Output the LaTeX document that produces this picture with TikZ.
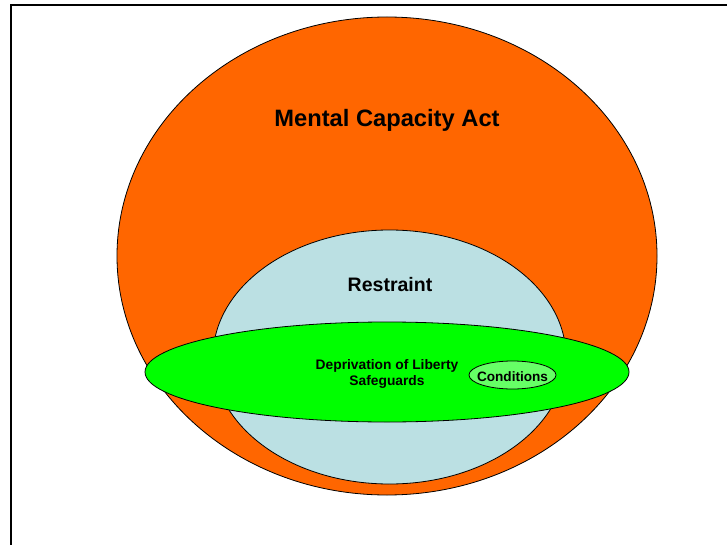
\documentclass[tikz,border=0pt]{standalone}
\usepackage{fontspec}
\setmainfont{Liberation Sans}
\usetikzlibrary{shapes}
\usetikzlibrary{calc}
\usetikzlibrary{positioning}
\usetikzlibrary{scopes}
\definecolor{mcaorange}{HTML}{FF6600}
\definecolor{restraintblue}{HTML}{BBE0E3}
\definecolor{dolsgreen}{HTML}{00FF00}
\definecolor{condgreen}{HTML}{66FF66}
\tikzset{
  ring/.style={draw=black, line width=0.8pt},
  caption/.style={font=\bfseries, text=black, inner sep=0pt, align=center}
}
\begin{document}
\begin{tikzpicture}[x=1pt, y=-1pt]
    \useasboundingbox (0,0) rectangle (727,545);
    \draw [line width=2.5pt] (11,545) -- (11,5) -- (727,5);
    { []
        \coordinate (mca) at (387,256);
        \coordinate (res) at (389.5,357);
        \coordinate (dols) at (387,372);
        \coordinate (cond) at (512.5,375);
        \draw [ring, fill=mcaorange] (mca) ellipse (270 and 239);
        \draw [ring, fill=restraintblue] (res) ellipse (176.5 and 127);
        \draw [ring, fill=dolsgreen] (dols) ellipse (242 and 50);
        \draw [ring, fill=condgreen] (cond) ellipse (43.5 and 14);
    }
    \node [caption, font=\fontsize{23.7}{28}\bfseries\selectfont] (mcatext) at (387,120) {Mental Capacity Act};
    \node [caption, font=\fontsize{19.5}{23}\bfseries\selectfont] (restext) at (390,285) {Restraint};
    \node [caption, font=\fontsize{13.8}{16.5}\bfseries\selectfont] (dolstext) at (387,374) {Deprivation of Liberty\\Safeguards};
    \node [caption, font=\fontsize{13.6}{16.5}\bfseries\selectfont] (condtext) at (512.5,377) {Conditions};
\end{tikzpicture}
\end{document}
